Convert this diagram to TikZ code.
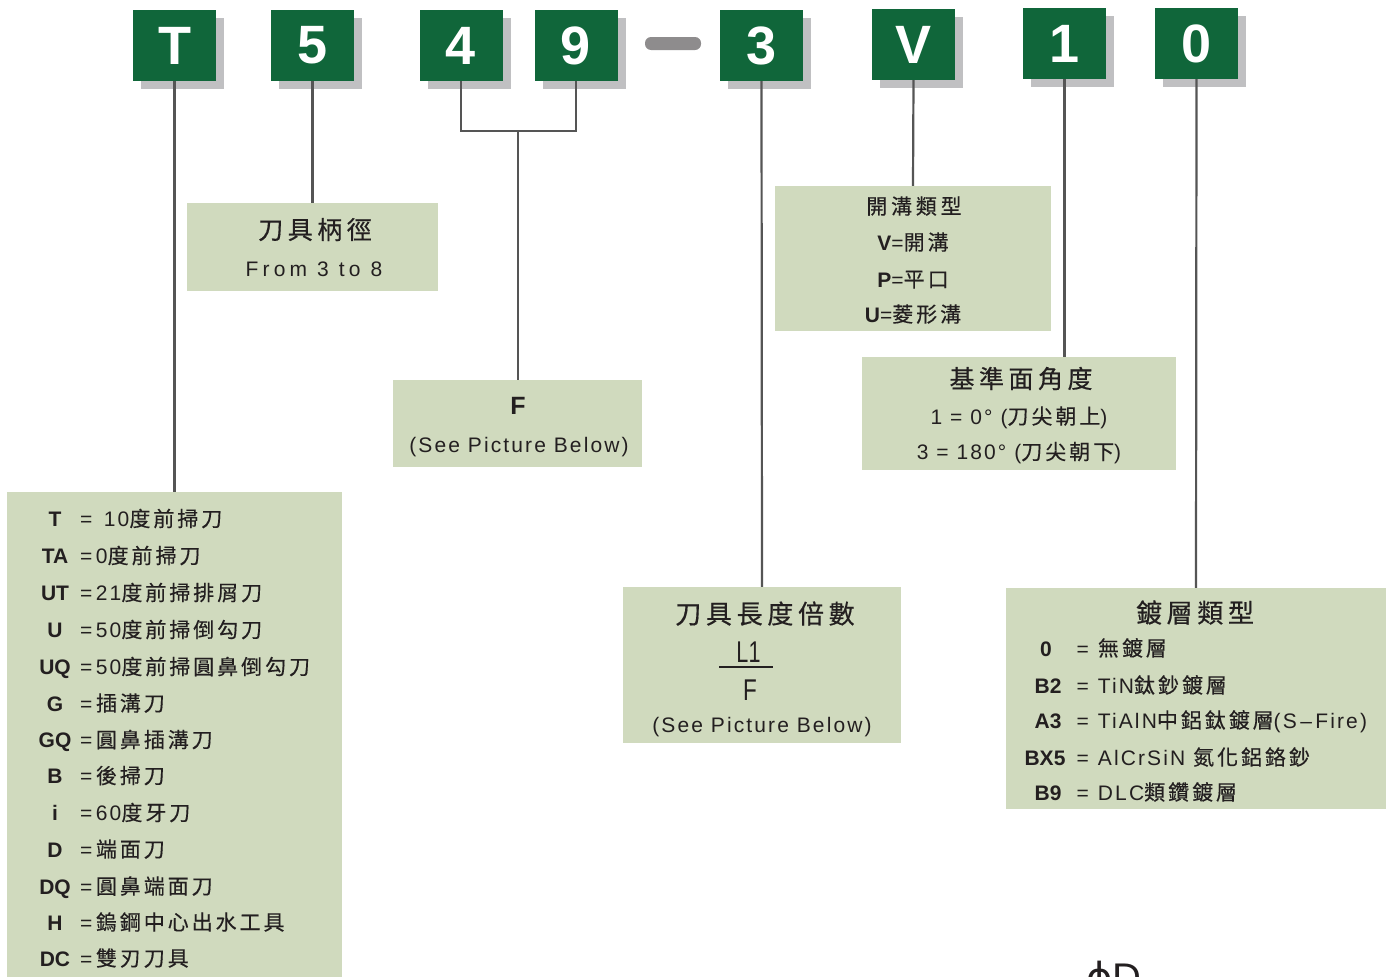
\documentclass[tikz,border=0pt]{standalone}
\usepackage{fontspec}
\usepackage{graphicx}
\usetikzlibrary{shadows}
\setmainfont{Liberation Sans}[LetterSpace=10]
\newfontfamily\bigf{Liberation Sans}
\newfontfamily\latw{Liberation Sans}[LetterSpace=20]
\newfontfamily\zhf{Noto Sans CJK TC}[LetterSpace=14, FakeBold=0.3]
\newfontfamily\zht{Noto Sans CJK TC}[LetterSpace=18, FakeBold=0.5]
\newfontfamily\dejavu{DejaVu Sans}
\newcommand\zh[1]{{\zhf #1}}
\newcommand\fsz[1]{\fontsize{#1}{#1}\selectfont}
\definecolor{boxgreen}{HTML}{10663A}
\definecolor{shadowgray}{HTML}{C0C0C2}
\definecolor{panelgreen}{HTML}{D0DABE}
\definecolor{linegray}{HTML}{555555}
\definecolor{dashgray}{HTML}{8E8C8D}
\definecolor{textblack}{HTML}{231F20}
\tikzset{
  letterbox/.style={fill=boxgreen, text=white, minimum width=83pt, minimum height=71pt,
    inner sep=0pt, font=\bigf\fsz{54}\bfseries,
    general shadow={fill=shadowgray, shadow xshift=8pt, shadow yshift=-8pt}},
  panel/.style={fill=panelgreen, inner sep=0pt},
  conn/.style={draw=linegray, line width=2.2pt},
  txt/.style={inner sep=0pt, text=textblack, font=\fsz{21}},
  ttl/.style={inner sep=0pt, text=textblack, font=\zht\fsz{25}},
  code/.style={inner sep=0pt, text=textblack, font=\bigf\fsz{21}\bfseries},
}
\begin{document}
\begin{tikzpicture}[x=1pt,y=-1pt]
\useasboundingbox (0,0) rectangle (1392,977);
\fill[white] (0,0) rectangle (1392,977);

% letter boxes
\node[letterbox] (bT) at (174.5,45.5) {T};
\node[letterbox] (b5) at (312.5,45.5) {5};
\node[letterbox] (b4) at (461,45.5) {4};
\node[letterbox] (b9) at (576,45.5) {9};
\node[fill=dashgray, rounded corners=6pt, minimum width=56pt, minimum height=13pt, inner sep=0pt] (dash) at (673,43.5) {};
\node[letterbox] (b3) at (761.5,45.5) {3};
\node[letterbox] (bV) at (913.5,44.5) {V};
\node[letterbox] (b1) at (1064.5,43.5) {1};
\node[letterbox] (b0) at (1196.5,43.5) {0};

% panels
\node[panel, minimum width=251pt, minimum height=88pt] (p5) at (312.5,247) {};
\node[panel, minimum width=249pt, minimum height=87pt] (pF) at (517.5,423.5) {};
\node[panel, minimum width=276pt, minimum height=145pt] (pGroove) at (913,258.5) {};
\node[panel, minimum width=314pt, minimum height=113pt] (pAng) at (1019,413.5) {};
\node[panel, minimum width=335pt, minimum height=498pt] (pL) at (174.5,741) {};
\node[panel, minimum width=278pt, minimum height=156pt] (pLen) at (762,665) {};
\node[panel, minimum width=380pt, minimum height=221pt] (pCoat) at (1196,698.5) {};

% connectors
\coordinate (br) at (518,131);
\draw[conn] (bT.south) -- (pL.north);
\draw[conn] (b5.south) -- (p5.north);
\draw[conn] (b4.south) |- (br) -| (b9.south);
\draw[conn] (br) -- (br |- pF.north);
\draw[conn] (b3.south) -- (pLen.north);
\draw[conn] (bV.south) -- (pGroove.north);
\draw[conn] (b1.south) -- (b1.south |- pAng.north);
\draw[conn] (b0.south) -- (pCoat.north);

% panel 5
\node[ttl, anchor=base] (t5a) at (315,239) {刀具柄徑};
\node[txt, font=\latw\fsz{21}, anchor=base] (t5b) at (314,276) {From 3 to 8};

% panel F
\node[code, font=\bigf\fsz{25}\bfseries, anchor=base] (tFa) at (518,414) {F};
\node[txt, anchor=base] (tFb) at (519,452) {(See Picture Below)};

% groove panel
\node[ttl, font=\zht\fsz{21}, anchor=base] (tGa) at (914,214) {開溝類型};
\node[txt, anchor=base] (tGb) at (913,250) {{\bigf\bfseries V}=\zh{開溝}};
\node[txt, anchor=base] (tGc) at (913,287) {{\bigf\bfseries P}=\zh{平口}};
\node[txt, anchor=base] (tGd) at (913,322) {{\bigf\bfseries U}=\zh{菱形溝}};

% angle panel
\node[ttl, anchor=base] (tAa) at (1021,388) {基準面角度};
\node[txt, anchor=base] (tAb) at (1019,424) {1 = 0° (\zh{刀尖朝上})};
\node[txt, anchor=base] (tAc) at (1019,459.5) {3 = 180° (\zh{刀尖朝下})};

% left panel
\node[code, anchor=base] (c0) at (55,526.5) {T};
\node[txt, anchor=base west] (r0) at (80,526.5) {=\hspace{11.5pt}10\zh{度前掃刀}};
\node[code, anchor=base] (c1) at (55,563.5) {TA};
\node[txt, anchor=base west] (r1) at (80,563.5) {=\hspace{3.5pt}0\zh{度前掃刀}};
\node[code, anchor=base] (c2) at (55,600.5) {UT};
\node[txt, anchor=base west] (r2) at (80,600.5) {=\hspace{3.5pt}21\zh{度前掃排屑刀}};
\node[code, anchor=base] (c3) at (55,637.5) {U};
\node[txt, anchor=base west] (r3) at (80,637.5) {=\hspace{3.5pt}50\zh{度前掃倒勾刀}};
\node[code, anchor=base] (c4) at (55,674.5) {UQ};
\node[txt, anchor=base west] (r4) at (80,674.5) {=\hspace{3.5pt}50\zh{度前掃圓鼻倒勾刀}};
\node[code, anchor=base] (c5) at (55,711) {G};
\node[txt, anchor=base west] (r5) at (80,711) {=\hspace{3.5pt}\zh{插溝刀}};
\node[code, anchor=base] (c6) at (55,747.5) {GQ};
\node[txt, anchor=base west] (r6) at (80,747.5) {=\hspace{3.5pt}\zh{圓鼻插溝刀}};
\node[code, anchor=base] (c7) at (55,783.5) {B};
\node[txt, anchor=base west] (r7) at (80,783.5) {=\hspace{3.5pt}\zh{後掃刀}};
\node[code, anchor=base] (c8) at (55,820.5) {i};
\node[txt, anchor=base west] (r8) at (80,820.5) {=\hspace{3.5pt}60\zh{度牙刀}};
\node[code, anchor=base] (c9) at (55,857) {D};
\node[txt, anchor=base west] (r9) at (80,857) {=\hspace{3.5pt}\zh{端面刀}};
\node[code, anchor=base] (c10) at (55,894) {DQ};
\node[txt, anchor=base west] (r10) at (80,894) {=\hspace{3.5pt}\zh{圓鼻端面刀}};
\node[code, anchor=base] (c11) at (55,930) {H};
\node[txt, anchor=base west] (r11) at (80,930) {=\hspace{3.5pt}\zh{鎢鋼中心出水工具}};
\node[code, anchor=base] (c12) at (55,966) {DC};
\node[txt, anchor=base west] (r12) at (80,966) {=\hspace{3.5pt}\zh{雙刃刀具}};

% length panel
\node[ttl, font=\zht\fsz{26}, anchor=base] (tLa) at (765,623.5) {刀具長度倍數};
\node[txt, font=\bigf\fsz{30}, anchor=base] (tLb) at (748.5,662) {\scalebox{0.72}[1]{L1}};
\coordinate (fl) at (719,667);
\coordinate (fr) at (773,667);
\draw[draw=textblack, line width=2pt] (fl) -- (fr);
\node[txt, font=\bigf\fsz{30}, anchor=base] (tLc) at (750,700) {\scalebox{0.75}[1]{F}};
\node[txt, anchor=base] (tLd) at (762,732) {(See Picture Below)};

% coating panel
\node[ttl, font=\zht\fsz{26}, anchor=base] (tCa) at (1195,622.5) {鍍層類型};
\node[code, anchor=base] (k0) at (1046,656) {0};
\node[txt, anchor=base west] (s0) at (1076.5,656) {=\hspace{9pt}\zh{無鍍層}};
\node[code, anchor=base] (k1) at (1048,693) {B2};
\node[txt, anchor=base west] (s1) at (1076.5,693) {=\hspace{9pt}TiN\zh{鈦鈔鍍層}};
\node[code, anchor=base] (k2) at (1048,728) {A3};
\node[txt, anchor=base west] (s2) at (1076.5,728) {=\hspace{9pt}TiAlN\zh{中鋁鈦鍍層}(S\,–\,Fire)};
\node[code, anchor=base] (k3) at (1045,765) {BX5};
\node[txt, anchor=base west] (s3) at (1076.5,765) {=\hspace{9pt}AlCrSiN \zh{氮化鋁鉻鈔}};
\node[code, anchor=base] (k4) at (1048,800) {B9};
\node[txt, anchor=base west] (s4) at (1076.5,800) {=\hspace{9pt}DLC\zh{類鑽鍍層}};

% partial label at bottom (cut by the lower edge, as in the reference)
\node[txt, font=\bigf\fsz{40}, anchor=base west] (phiD) at (1086,991) {{\dejavu ϕ}D};
\end{tikzpicture}
\end{document}
